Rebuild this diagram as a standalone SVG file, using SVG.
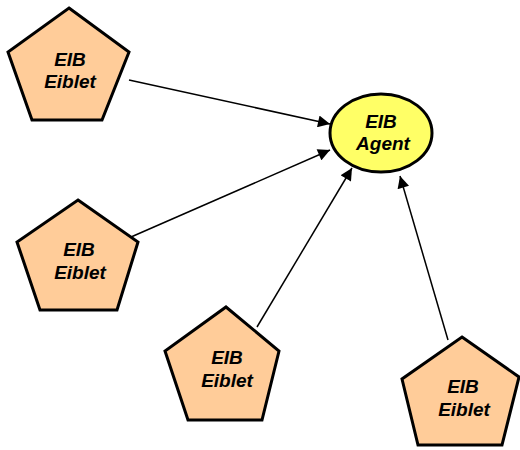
<svg xmlns="http://www.w3.org/2000/svg" width="520" height="450" viewBox="0 0 520 450">
<defs>
<marker id="ah" viewBox="0 0 10 10" refX="10" refY="5" markerWidth="13" markerHeight="12" markerUnits="userSpaceOnUse" orient="auto">
<path d="M0,0 L10,5 L0,10 z" fill="#000"/>
</marker>
<style>
.pent{fill:#FFCC99;stroke:#000;stroke-width:3;stroke-linejoin:miter}
.agent{fill:#FFFF66;stroke:#000;stroke-width:3}
.lbl{font-family:"Liberation Sans",Arial,sans-serif;font-size:19px;font-weight:bold;font-style:italic;fill:#000;text-anchor:middle}
.conn{stroke:#000;stroke-width:1.5;fill:none;marker-end:url(#ah)}
</style>
</defs>
<g id="connectors">
<line class="conn" x1="129" y1="80" x2="330" y2="124"/>
<line class="conn" x1="131" y1="237" x2="330" y2="150"/>
<line class="conn" x1="257" y1="327" x2="352" y2="168"/>
<line class="conn" x1="448" y1="340" x2="400" y2="176"/>
</g>
<g id="agent">
<ellipse class="agent" cx="381" cy="133" rx="51" ry="39"/>
<text class="lbl" x="381" y="128">EIB</text>
<text class="lbl" x="383" y="150">Agent</text>
</g>
<g id="eiblet1">
<polygon class="pent" points="69,8 129,52 102,120 32,120 8,52"/>
<text class="lbl" x="70" y="66">EIB</text>
<text class="lbl" x="70" y="88">Eiblet</text>
</g>
<g id="eiblet2">
<polygon class="pent" points="78,200 138,242 117,310 40,310 17,242"/>
<text class="lbl" x="79" y="256">EIB</text>
<text class="lbl" x="80" y="279">Eiblet</text>
</g>
<g id="eiblet3">
<polygon class="pent" points="226,307 279,351 262,420 188,420 165,351"/>
<text class="lbl" x="227" y="364">EIB</text>
<text class="lbl" x="227" y="387">Eiblet</text>
</g>
<g id="eiblet4">
<polygon class="pent" points="462,337 519,377 502,445 418,445 402,379"/>
<text class="lbl" x="463" y="393">EIB</text>
<text class="lbl" x="464" y="416">Eiblet</text>
</g>
</svg>
